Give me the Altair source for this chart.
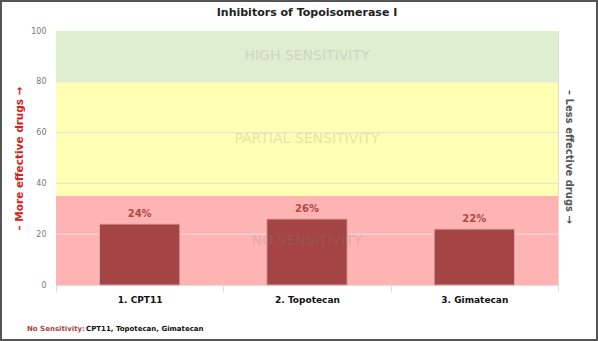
import altair as alt
import pandas as pd

drugs = ["1. CPT11", "2. Topotecan", "3. Gimatecan"]
values = [24, 26, 22]
labels = ["24%", "26%", "22%"]

band_names = ["NO SENSITIVITY", "PARTIAL SENSITIVITY", "HIGH SENSITIVITY"]
band_lo = [0, 35, 80]
band_hi = [35, 80, 100]
band_colors = ["#ffb3b3", "#ffffb3", "#dfeecf"]
grid_vals = [20, 40, 60, 80]

W, H = 502, 254

bars_df = pd.DataFrame({"drug": drugs, "value": values, "label": labels})
bands_df = pd.DataFrame({"name": band_names, "lo": band_lo, "hi": band_hi,
                         "mid": [(a + b) / 2 for a, b in zip(band_lo, band_hi)],
                         "color": band_colors})
grid_df = pd.DataFrame({"v": grid_vals})
one = pd.DataFrame({"k": [0]})

yscale = alt.Scale(domain=[0, 100], nice=False)

bands = alt.Chart(bands_df).mark_rect().encode(
    x=alt.value(0), x2=alt.value(W),
    y=alt.Y("lo:Q", scale=yscale,
            axis=alt.Axis(values=[0, 20, 40, 60, 80, 100], grid=False, ticks=False,
                          domain=False, labelColor="#777", labelFontSize=8,
                          labelPadding=10, title="– More effective drugs →",
                          titleColor="#d62020", titleFontSize=10.5, titleFontWeight="bold",
                          titlePadding=6)),
    y2="hi:Q",
    color=alt.Color("color:N", scale=None),
)

grid = alt.Chart(grid_df).mark_rule(color="#e2e2e2", strokeWidth=1).encode(
    x=alt.value(0), x2=alt.value(W), y=alt.Y("v:Q", scale=yscale)
)

band_text = alt.Chart(bands_df).mark_text(
    fontSize=14, color="#888888", opacity=0.22, font="DejaVu Sans"
).encode(x=alt.value(W / 2), y=alt.Y("mid:Q", scale=yscale), text="name:N")

xenc = alt.X("drug:N", sort=drugs, scale=alt.Scale(paddingInner=0, paddingOuter=0),
             axis=alt.Axis(title=None, labelAngle=0, labelColor="#111", labelFontSize=9,
                           labelFontWeight="bold", tickBand="extent", tickColor="#dddddd",
                           domainColor="#dddddd", tickSize=6, labelPadding=4))

bars = alt.Chart(bars_df).mark_bar(
    width=alt.RelativeBandSize(0.48), color="#a54444", stroke="#d8a8a8", strokeWidth=1
).encode(x=xenc, y=alt.Y("value:Q", scale=yscale))

bar_labels = alt.Chart(bars_df).mark_text(
    dy=-10, fontSize=10, fontWeight="bold", color="#b24848"
).encode(x=xenc, y=alt.Y("value:Q", scale=yscale), text="label:N")

title = alt.Chart(one).mark_text(
    fontSize=11, fontWeight="bold", color="#222222"
).encode(x=alt.value(W / 2), y=alt.value(-18), text=alt.value("Inhibitors of Topoisomerase I"))

right_title = alt.Chart(one).mark_text(
    angle=90, fontSize=10, fontWeight="bold", color="#555555"
).encode(x=alt.value(W + 11), y=alt.value(126),
         text=alt.value("– Less effective drugs →"))

foot1 = alt.Chart(one).mark_text(
    align="left", fontSize=7, fontWeight="bold", color="#a54444"
).encode(x=alt.value(-29), y=alt.value(298), text=alt.value("No Sensitivity:"))

foot2 = alt.Chart(one).mark_text(
    align="left", fontSize=7, fontWeight="bold", color="#111111"
).encode(x=alt.value(30), y=alt.value(298), text=alt.value("CPT11, Topotecan, Gimatecan"))

border = alt.Chart(one).mark_rect(
    fill=None, stroke="#555555", strokeWidth=2
).encode(x=alt.value(-55), x2=alt.value(541), y=alt.value(-30), y2=alt.value(309))

chart = alt.layer(bands, grid, bars, bar_labels, band_text, title, right_title, foot1, foot2, border).properties(
    width=W, height=H,
    autosize=alt.AutoSizeParams(type="none"),
    padding={"left": 56, "top": 31, "right": 40, "bottom": 56},
).configure_view(stroke=None).configure(background="white", font="DejaVu Sans")

chart.save("out.html", embed_options={"renderer": "svg", "actions": False})
